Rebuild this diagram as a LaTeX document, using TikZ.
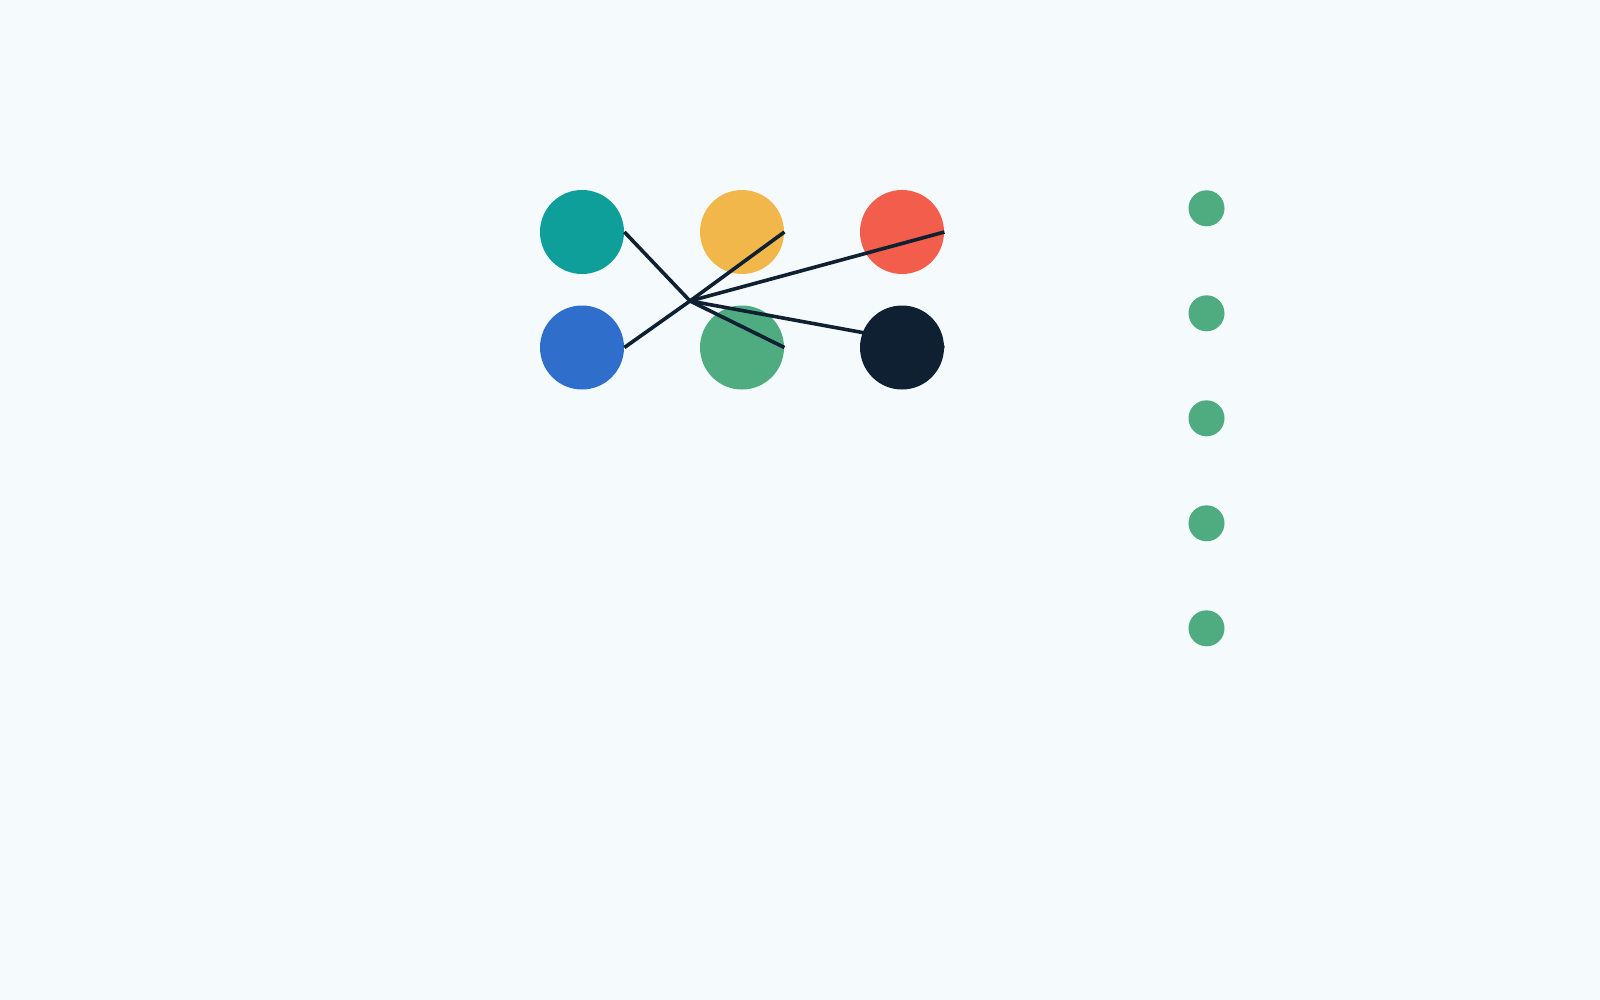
\documentclass[tikz,border=0pt]{standalone}
\definecolor{bgc}{HTML}{F5FAFD}
\definecolor{tealc}{HTML}{0E9F9A}
\definecolor{yelc}{HTML}{F2B74B}
\definecolor{redc}{HTML}{F25E4B}
\definecolor{bluec}{HTML}{2F6FCB}
\definecolor{grnc}{HTML}{4FAC80}
\definecolor{darkc}{HTML}{0F2032}
\begin{document}
\begin{tikzpicture}[x=0.5pt,y=-0.5pt,
  bigdot/.style={circle,inner sep=0pt,minimum size=42pt},
  smalldot/.style={circle,inner sep=0pt,minimum size=18pt,fill=grnc},
  link/.style={draw=darkc,line width=1.8pt}]
\fill[bgc] (0,0) rectangle (1600,1000);
\useasboundingbox (0,0) rectangle (1600,1000);
\node[bigdot,fill=tealc] (t) at (582,232) {};
\node[bigdot,fill=yelc] (y) at (742,232) {};
\node[bigdot,fill=redc] (r) at (902,232) {};
\node[bigdot,fill=bluec] (b) at (582,347.5) {};
\node[bigdot,fill=grnc] (g) at (742,347.5) {};
\node[bigdot,fill=darkc] (d) at (902,347.5) {};
\coordinate (hub) at (690,301);
\draw[link] (t.east) -- (hub);
\draw[link] (b.east) -- (hub);
\draw[link] (hub) -- (y.east);
\draw[link] (hub) -- (g.east);
\draw[link] (hub) -- (r.east);
\draw[link] (hub) -- (d.east);
\node[smalldot] (s1) at (1206.5,208.3) {};
\node[smalldot] (s2) at (1206.5,313.3) {};
\node[smalldot] (s3) at (1206.5,418.3) {};
\node[smalldot] (s4) at (1206.5,523.3) {};
\node[smalldot] (s5) at (1206.5,628.3) {};
\end{tikzpicture}
\end{document}
